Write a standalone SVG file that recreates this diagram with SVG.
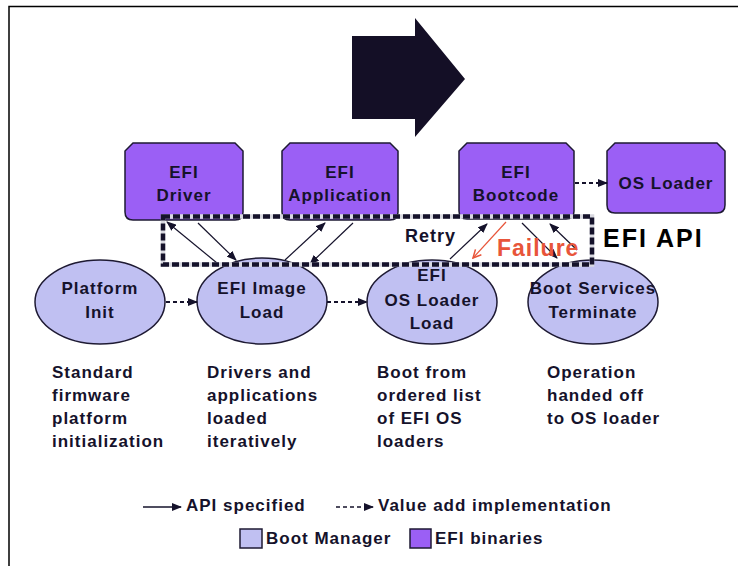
<svg xmlns="http://www.w3.org/2000/svg" width="738" height="566" viewBox="0 0 738 566">
<style>
.t{font-family:"Liberation Sans",Arial,sans-serif;font-weight:bold;font-size:17px;fill:#15122b;letter-spacing:1px}
.c{text-anchor:middle}
.box{fill:#9b5ff5;stroke:#1e1a33;stroke-width:1.5}
.ell{fill:#c0c0f2;stroke:#1e1a33;stroke-width:1.5}
.sol{stroke:#15122b;stroke-width:1.2;fill:none;marker-end:url(#ah)}
.dot{stroke:#15122b;stroke-width:1.8;fill:none;stroke-dasharray:4 3;marker-end:url(#ah)}
</style>
<defs>
<marker id="ah" markerWidth="10" markerHeight="8" refX="9" refY="4" orient="auto" markerUnits="userSpaceOnUse">
<path d="M0,0 L10,4 L0,8 Z" fill="#15122b"/>
</marker>
<marker id="rh" markerWidth="10" markerHeight="10" refX="9" refY="5" orient="auto" markerUnits="userSpaceOnUse">
<path d="M1,1 L9,5 L1,9" fill="none" stroke="#e8553a" stroke-width="1.5"/>
</marker>
</defs>
<rect width="738" height="566" fill="#fff"/>
<path d="M9,566 V6.5 H738" fill="none" stroke="#000" stroke-width="1.5"/>
<polygon points="352,36 415,36 415,18 465,79 415,137 415,119 352,119" fill="#140f26"/>

<g id="efi-driver">
<path class="box" d="M133,143 L235,143 L243,151 L243,212 Q243,220 235,220 L133,220 Q125,220 125,212 L125,151 Z"/>
<text class="t c" x="184" y="178">EFI</text>
<text class="t c" x="184" y="201">Driver</text>
</g>
<g id="efi-application">
<path class="box" d="M290,143 L390,143 L398,151 L398,212 Q398,220 390,220 L290,220 Q282,220 282,212 L282,151 Z"/>
<text class="t c" x="340" y="178">EFI</text>
<text class="t c" x="340" y="201">Application</text>
</g>
<g id="efi-bootcode">
<path class="box" d="M467,143 L566,143 L574,151 L574,211 Q574,219 566,219 L467,219 Q459,219 459,211 L459,151 Z"/>
<text class="t c" x="516" y="178">EFI</text>
<text class="t c" x="516" y="201">Bootcode</text>
</g>
<g id="os-loader">
<path class="box" d="M615,143 L717,143 L725,151 L725,205 Q725,213 717,213 L615,213 Q607,213 607,205 L607,151 Z"/>
<text class="t c" x="666" y="189">OS Loader</text>
</g>

<g id="platform-init">
<ellipse class="ell" cx="100" cy="302" rx="65" ry="42"/>
<text class="t c" x="100" y="294">Platform</text>
<text class="t c" x="100" y="318">Init</text>
</g>
<g id="efi-image-load">
<ellipse class="ell" cx="262" cy="301" rx="65" ry="43"/>
<text class="t c" x="262" y="294">EFI Image</text>
<text class="t c" x="262" y="318">Load</text>
</g>
<g id="efi-os-loader-load">
<ellipse class="ell" cx="432" cy="302" rx="65" ry="42"/>
<text class="t c" x="432" y="281">EFI</text>
<text class="t c" x="432" y="306">OS Loader</text>
<text class="t c" x="432" y="329">Load</text>
</g>
<g id="boot-services-terminate">
<ellipse class="ell" cx="593" cy="302" rx="65" ry="42"/>
<text class="t c" x="593" y="294">Boot Services</text>
<text class="t c" x="593" y="318">Terminate</text>
</g>

<g id="connectors">
<line class="dot" x1="166" y1="302" x2="197" y2="302"/>
<line class="dot" x1="327" y1="302" x2="367" y2="302"/>
<line class="dot" x1="575" y1="183" x2="607" y2="183"/>
<line class="sol" x1="198" y1="223" x2="236" y2="260"/>
<line class="sol" x1="217" y1="263" x2="167" y2="222"/>
<line class="sol" x1="285" y1="260" x2="325" y2="223"/>
<line class="sol" x1="353" y1="223" x2="310" y2="264"/>
<line class="sol" x1="450" y1="259" x2="487" y2="224"/>
<line x1="506" y1="222" x2="473" y2="258" stroke="#e8553a" stroke-width="1.2" marker-end="url(#rh)"/>
<line class="sol" x1="522" y1="223" x2="557" y2="258"/>
<line class="sol" x1="577" y1="250" x2="550" y2="224"/>
</g>

<g id="efi-api-boundary">
<rect x="163" y="216.5" width="429" height="48" fill="none" stroke="#d8d8e0" stroke-width="4.5"/>
<rect x="163" y="216.5" width="429" height="48" fill="none" stroke="#15122b" stroke-width="4.5" stroke-dasharray="7 3"/>
<text class="t" x="405" y="242" style="font-size:18px">Retry</text>
<text class="t" x="497" y="256" style="font-size:23px;fill:#e8553a;letter-spacing:1px">Failure</text>
<text class="t" x="603" y="247" style="font-size:25px;fill:#000;letter-spacing:2px">EFI API</text>
</g>

<g id="descriptions">
<text class="t" x="52" y="378">Standard</text>
<text class="t" x="52" y="401">firmware</text>
<text class="t" x="52" y="424">platform</text>
<text class="t" x="52" y="447">initialization</text>
<text class="t" x="207" y="378">Drivers and</text>
<text class="t" x="207" y="401">applications</text>
<text class="t" x="207" y="424">loaded</text>
<text class="t" x="207" y="447">iteratively</text>
<text class="t" x="377" y="378">Boot from</text>
<text class="t" x="377" y="401">ordered list</text>
<text class="t" x="377" y="424">of EFI OS</text>
<text class="t" x="377" y="447">loaders</text>
<text class="t" x="547" y="378">Operation</text>
<text class="t" x="547" y="401">handed off</text>
<text class="t" x="547" y="424">to OS loader</text>
</g>

<g id="legend">
<line x1="143" y1="507" x2="181" y2="507" stroke="#15122b" stroke-width="1.5" marker-end="url(#ah)"/>
<text class="t" x="186" y="511">API specified</text>
<line x1="336" y1="507" x2="373" y2="507" stroke="#15122b" stroke-width="1.5" stroke-dasharray="4 3" marker-end="url(#ah)"/>
<text class="t" x="378" y="511">Value add implementation</text>
<rect x="240" y="529" width="22" height="19" fill="#c0c0f2" stroke="#1e1a33" stroke-width="1.5"/>
<text class="t" x="266" y="544">Boot Manager</text>
<rect x="410" y="529" width="21" height="19" fill="#9b5ff5" stroke="#1e1a33" stroke-width="1.5"/>
<text class="t" x="435" y="544">EFI binaries</text>
</g>
</svg>
